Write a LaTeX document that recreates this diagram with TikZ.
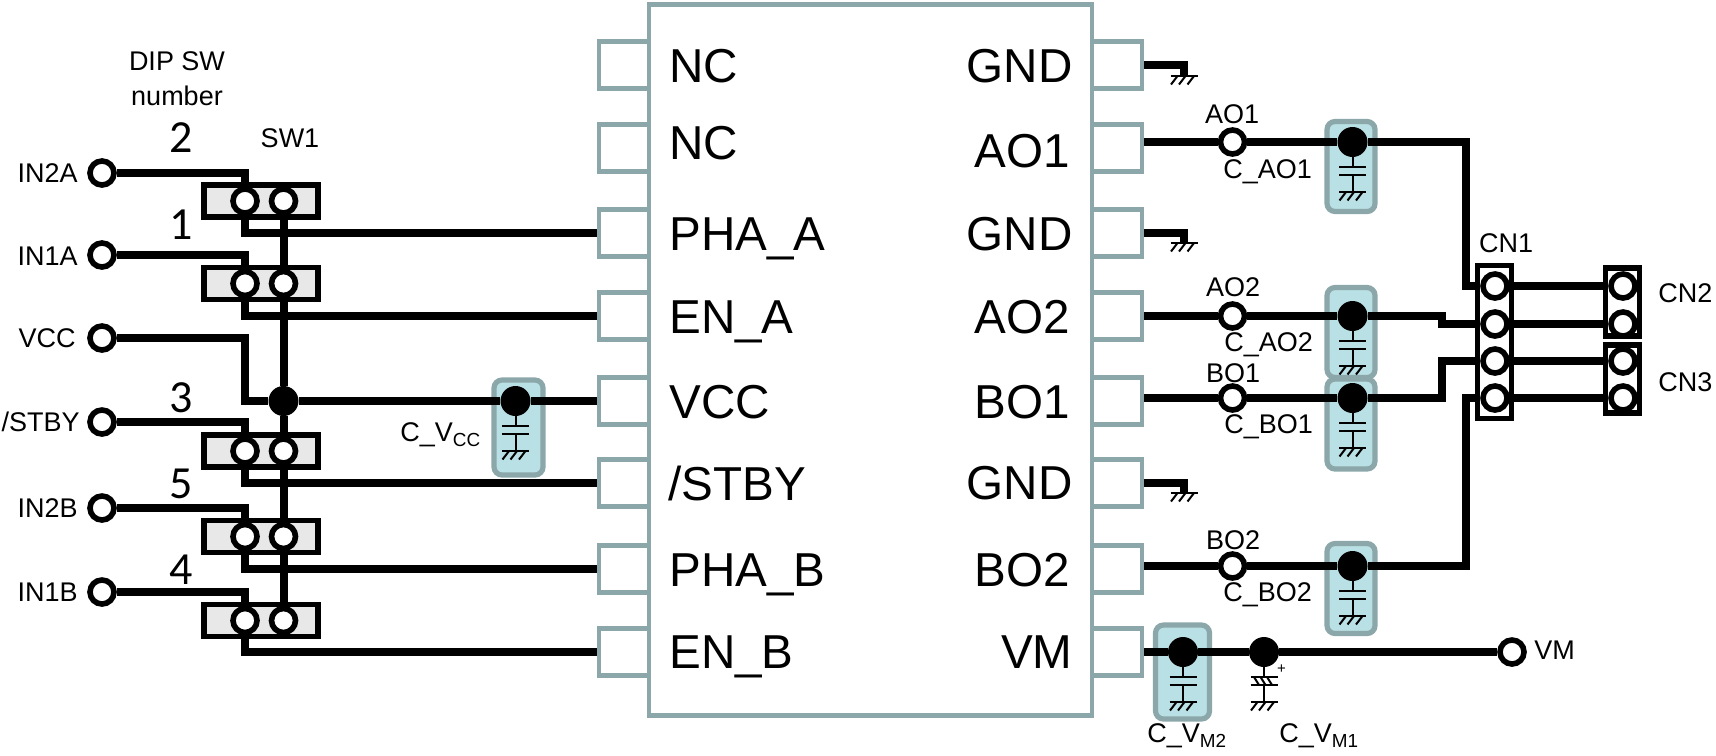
\documentclass[tikz,border=0pt]{standalone}
\usepackage{fontspec}
\setmainfont{Liberation Sans}
\newfontfamily\numfont{Carlito}
\usetikzlibrary{arrows,shapes}

\definecolor{pingray}{HTML}{8BA7AA}
\definecolor{capfill}{HTML}{B9E0E4}
\definecolor{swfill}{HTML}{E8E8E8}

\tikzset{
  wire/.style={draw=black,line width=4pt},
  thinwire/.style={draw=black,line width=1pt},
  chipbox/.style={draw=pingray,fill=white,line width=2.3pt,minimum width=221.5pt,minimum height=355.5pt},
  pinbox/.style={draw=pingray,fill=white,line width=2.3pt,minimum width=25pt,minimum height=23.5pt},
  capbox/.style={draw=pingray,fill=capfill,line width=2.6pt,rounded corners=4pt,minimum width=23pt},
  swbox/.style={draw=black,fill=swfill,line width=2.6pt,minimum width=57pt,minimum height=16pt},
  cnbox/.style={draw=black,fill=white,line width=2.6pt,minimum width=17pt},
  hole/.style={circle,draw=black,fill=white,line width=2.8pt,minimum size=12pt,inner sep=0pt},
  dot/.style={circle,fill=black,minimum size=15pt,inner sep=0pt},
  lbl/.style={inner sep=0pt,font=\fontsize{13.5}{13.5}\selectfont},
  pinlbl/.style={inner sep=0pt,font=\fontsize{23.8}{23.8}\selectfont},
  numlbl/.style={inner sep=0pt,font=\numfont\fontsize{23}{23}\selectfont},
  gndsym/.pic={
    \draw[thinwire] (-13.5,0) -- (13.5,0);
    \draw[thinwire] (-6.5,0) -- (-13,8.5) (1.5,0) -- (-5,8.5) (10,0) -- (3.5,8.5);
  },
  capsym/.pic={
    \draw[thinwire] (0,0) -- (0,25) (-13.5,25) -- (13.5,25);
    \draw[thinwire] (-13.5,33) -- (13.5,33) (0,33) -- (0,50);
    \pic at (0,50) {gndsym};
  },
  polsym/.pic={
    \draw[thinwire] (0,0) -- (0,25) (-13.5,25) -- (13.5,25);
    \draw[thinwire] (-13.5,33) -- (13.5,33) (0,33) -- (0,50);
    \draw[thinwire] (-10,25) -- (-5,33) (-3.5,25) -- (1.5,33) (3,25) -- (8,33);
    \pic at (0,50) {gndsym};
  },
}

\begin{document}
\begin{tikzpicture}[x=0.5pt,y=-0.5pt]
\useasboundingbox (0,0) rectangle (1716,755);

% chip and its pins
\node [pinbox] (pinL1) at (624,65) {};
\node [pinbox] (pinL2) at (624,148) {};
\node [pinbox] (pinL3) at (624,233) {};
\node [pinbox] (pinL4) at (624,316) {};
\node [pinbox] (pinL5) at (624,401) {};
\node [pinbox] (pinL6) at (624,483) {};
\node [pinbox] (pinL7) at (624,569) {};
\node [pinbox] (pinL8) at (624,652) {};
\node [pinbox] (pinR1) at (1117,65) {};
\node [pinbox] (pinR2) at (1117,148) {};
\node [pinbox] (pinR3) at (1117,233) {};
\node [pinbox] (pinR4) at (1117,316) {};
\node [pinbox] (pinR5) at (1117,401) {};
\node [pinbox] (pinR6) at (1117,483) {};
\node [pinbox] (pinR7) at (1117,569) {};
\node [pinbox] (pinR8) at (1117,652) {};
\node [chipbox] (chip) at (870.5,360) {};

\node [pinlbl,anchor=west] (lblL1) at (669,66) {NC};
\node [pinlbl,anchor=west] (lblL2) at (669,143) {NC};
\node [pinlbl,anchor=west] (lblL3) at (669,239) {PHA\_A};
\node [pinlbl,anchor=west] (lblL4) at (669,322) {EN\_A};
\node [pinlbl,anchor=west] (lblL5) at (669,402) {VCC};
\node [pinlbl,anchor=west] (lblL6) at (668,483) {/STBY};
\node [pinlbl,anchor=west] (lblL7) at (669,575) {PHA\_B};
\node [pinlbl,anchor=west] (lblL8) at (669,657) {EN\_B};
\node [pinlbl,anchor=east] (lblR1) at (1073,66) {GND};
\node [pinlbl,anchor=east] (lblR2) at (1070,151) {AO1};
\node [pinlbl,anchor=east] (lblR3) at (1073,234) {GND};
\node [pinlbl,anchor=east] (lblR4) at (1070,317) {AO2};
\node [pinlbl,anchor=east] (lblR5) at (1070,402) {BO1};
\node [pinlbl,anchor=east] (lblR6) at (1073,483) {GND};
\node [pinlbl,anchor=east] (lblR7) at (1070,570) {BO2};
\node [pinlbl,anchor=east] (lblR8) at (1073,652) {VM};

% DIP switch
\node [swbox] (sw1) at (261,201) {};
\node [swbox] (sw2) at (261,283.5) {};
\node [swbox] (sw3) at (261,451) {};
\node [swbox] (sw4) at (261,536.5) {};
\node [swbox] (sw5) at (261,620.5) {};
\node [hole] (sw1l) at (245,201) {};
\node [hole] (sw1r) at (283.5,201) {};
\node [hole] (sw2l) at (245,283.5) {};
\node [hole] (sw2r) at (283.5,283.5) {};
\node [hole] (sw3l) at (245,451) {};
\node [hole] (sw3r) at (283.5,451) {};
\node [hole] (sw4l) at (245,536.5) {};
\node [hole] (sw4r) at (283.5,536.5) {};
\node [hole] (sw5l) at (245,620.5) {};
\node [hole] (sw5r) at (283.5,620.5) {};

\node [hole] (tIN2A) at (102,173) {};
\node [hole] (tIN1A) at (102,255) {};
\node [hole] (tVCC) at (102,338) {};
\node [hole] (tSTBY) at (102,422) {};
\node [hole] (tIN2B) at (102,508) {};
\node [hole] (tIN1B) at (102,592) {};
\node [lbl,anchor=east] (lblIN2A) at (78,173) {IN2A};
\node [lbl,anchor=east] (lblIN1A) at (78,256) {IN1A};
\node [lbl,anchor=east] (lblVCC) at (76,338) {VCC};
\node [lbl,anchor=east] (lblSTBY) at (80,422) {/STBY};
\node [lbl,anchor=east] (lblIN2B) at (78,508) {IN2B};
\node [lbl,anchor=east] (lblIN1B) at (78,592) {IN1B};

\node [lbl] (lblDIP) at (177,61) {DIP SW};
\node [lbl] (lblNUM) at (177,96) {number};
\node [lbl] (lblSW1) at (290,138) {SW1};
\node [numlbl] (num2) at (181,138) {2};
\node [numlbl] (num1) at (181,225) {1};
\node [numlbl] (num3) at (181,398) {3};
\node [numlbl] (num5) at (181,484) {5};
\node [numlbl] (num4) at (181,570) {4};

% capacitors
\node [capbox,minimum height=47.5pt,minimum width=24.5pt] (boxVCC) at (518.5,427.5) {};
\node [capbox,minimum height=45pt,minimum width=24pt] (boxAO1) at (1351,166.5) {};
\node [capbox,minimum height=45pt,minimum width=24pt] (boxAO2) at (1351,332.5) {};
\node [capbox,minimum height=45pt,minimum width=24pt] (boxBO1) at (1351,424) {};
\node [capbox,minimum height=45pt,minimum width=24pt] (boxBO2) at (1351,588.5) {};
\node [capbox,minimum height=47pt,minimum width=27pt] (boxVM2) at (1182.5,672) {};

\node [dot] (vccdot) at (283.5,401) {};
\node [dot] (dotVCC) at (515.5,401) {};
\node [dot] (dotAO1) at (1352.5,142) {};
\node [dot] (dotAO2) at (1352.5,316) {};
\node [dot] (dotBO1) at (1352.5,398) {};
\node [dot] (dotBO2) at (1352.5,566) {};
\node [dot] (dotVM2) at (1183,652) {};
\node [dot] (dotVM1) at (1264,652) {};

\pic at (dotVCC) {capsym};
\pic at (dotAO1) {capsym};
\pic at (dotAO2) {capsym};
\pic at (dotBO1) {capsym};
\pic at (dotBO2) {capsym};
\pic at (dotVM2) {capsym};
\pic at (dotVM1) {polsym};
\node [inner sep=0pt,font=\fontsize{7.5}{7.5}\selectfont] (plusVM1) at (1281.5,669) {+};

\node [lbl,anchor=west] (lblCVCC) at (400,435) {C\_V\textsubscript{CC}};
\node [lbl,anchor=west] (lblCAO1) at (1223,172) {C\_AO1};
\node [lbl,anchor=west] (lblCAO2) at (1224,345) {C\_AO2};
\node [lbl,anchor=west] (lblCBO1) at (1224,427) {C\_BO1};
\node [lbl,anchor=west] (lblCBO2) at (1223,595) {C\_BO2};
\node [lbl,anchor=west] (lblCVM2) at (1147,736) {C\_V\textsubscript{M2}};
\node [lbl,anchor=west] (lblCVM1) at (1279,736) {C\_V\textsubscript{M1}};

% output test points
\node [hole] (tAO1) at (1232.5,142) {};
\node [hole] (tAO2) at (1232.5,316) {};
\node [hole] (tBO1) at (1232.5,398) {};
\node [hole] (tBO2) at (1232.5,566) {};
\node [hole] (tVM) at (1512,652) {};
\node [lbl] (lblAO1) at (1232,114) {AO1};
\node [lbl] (lblAO2) at (1233,287) {AO2};
\node [lbl] (lblBO1) at (1233,373) {BO1};
\node [lbl] (lblBO2) at (1233,540) {BO2};
\node [lbl,anchor=west] (lblVM) at (1534,650) {VM};

% connectors
\node [cnbox,minimum height=76.5pt] (cn1) at (1494.5,342) {};
\node [cnbox,minimum height=34pt] (cn2) at (1622.5,302) {};
\node [cnbox,minimum height=34pt] (cn3) at (1622.5,379) {};
\node [hole] (cn1a) at (1495,286) {};
\node [hole] (cn1b) at (1495,324) {};
\node [hole] (cn1c) at (1495,361) {};
\node [hole] (cn1d) at (1495,398) {};
\node [hole] (cn2a) at (1623,286) {};
\node [hole] (cn2b) at (1623,324) {};
\node [hole] (cn3a) at (1623,361) {};
\node [hole] (cn3b) at (1623,398) {};
\node [lbl] (lblCN1) at (1506,243) {CN1};
\node [lbl,anchor=west] (lblCN2) at (1658,293) {CN2};
\node [lbl,anchor=west] (lblCN3) at (1658,382) {CN3};

\coordinate (busA) at (1466,220);
\coordinate (busB) at (1442,320);
\coordinate (busC) at (1442,380);
\coordinate (busD) at (1466,480);
\coordinate (vccbend) at (245,401);
\coordinate (gndA) at (1184,76);
\coordinate (gndB) at (1184,243);
\coordinate (gndC) at (1184,493);

% left side wiring
\draw [wire] (tIN2A) -| (sw1l);
\draw [wire] (tIN1A) -| (sw2l);
\draw [wire] (tSTBY) -| (sw3l);
\draw [wire] (tIN2B) -| (sw4l);
\draw [wire] (tIN1B) -| (sw5l);
\draw [wire] (sw1l) |- (pinL3.west);
\draw [wire] (sw2l) |- (pinL4.west);
\draw [wire] (sw3l) |- (pinL6.west);
\draw [wire] (sw4l) |- (pinL7.west);
\draw [wire] (sw5l) |- (pinL8.west);
\draw [wire] (sw1r) -- (sw2r);
\draw [wire] (sw2r) -- (vccdot);
\draw [wire] (vccdot) -- (sw3r);
\draw [wire] (sw3r) -- (sw4r);
\draw [wire] (sw4r) -- (sw5r);
\draw [wire] (tVCC) -| (vccbend) -- (vccdot);
\draw [wire] (vccdot) -- (dotVCC);
\draw [wire] (dotVCC) -- (pinL5.west);

% right side wiring
\draw [wire] (pinR1.east) -| (gndA);
\draw [wire] (pinR3.east) -| (gndB);
\draw [wire] (pinR6.east) -| (gndC);
\pic at (gndA) {gndsym};
\pic at (gndB) {gndsym};
\pic at (gndC) {gndsym};
\draw [wire] (pinR2.east |- tAO1) -- (tAO1);
\draw [wire] (pinR4.east |- tAO2) -- (tAO2);
\draw [wire] (pinR5.east |- tBO1) -- (tBO1);
\draw [wire] (pinR7.east |- tBO2) -- (tBO2);
\draw [wire] (tAO1) -- (dotAO1);
\draw [wire] (tAO2) -- (dotAO2);
\draw [wire] (tBO1) -- (dotBO1);
\draw [wire] (tBO2) -- (dotBO2);
\draw [wire] (dotAO1) -| (busA) |- (cn1a);
\draw [wire] (dotAO2) -| (busB) |- (cn1b);
\draw [wire] (dotBO1) -| (busC) |- (cn1c);
\draw [wire] (dotBO2) -| (busD) |- (cn1d);
\draw [wire] (cn1a) -- (cn2a);
\draw [wire] (cn1b) -- (cn2b);
\draw [wire] (cn1c) -- (cn3a);
\draw [wire] (cn1d) -- (cn3b);
\draw [wire] (pinR8.east) -- (dotVM2);
\draw [wire] (dotVM2) -- (dotVM1);
\draw [wire] (dotVM1) -- (tVM);
\end{tikzpicture}
\end{document}
